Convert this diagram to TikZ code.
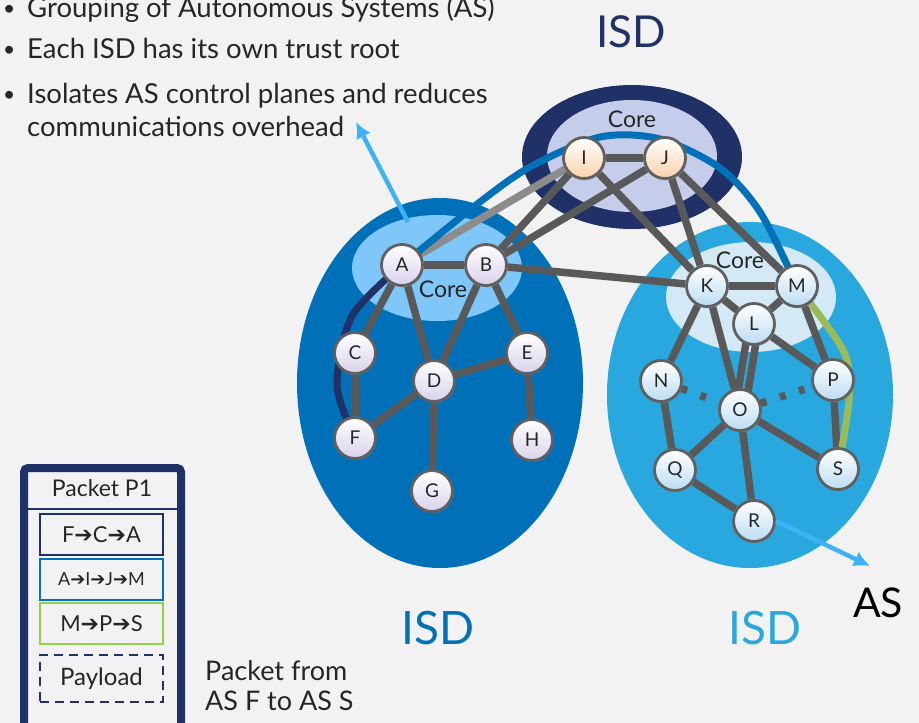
\documentclass[tikz,border=0pt]{standalone}
\usepackage{fontspec}
\setmainfont{Lato}
\newfontfamily\arrowfont{DejaVu Sans}
\usetikzlibrary{arrows.meta,shadows}

\definecolor{pagebg}{HTML}{F2F2F2}
\definecolor{navy}{HTML}{1F3166}
\definecolor{isdblue}{HTML}{0070B8}
\definecolor{isdsky}{HTML}{29A8E0}
\definecolor{corelav}{HTML}{C5CDEB}
\definecolor{corelight}{HTML}{7FC7F8}
\definecolor{corepale}{HTML}{D3EAF6}
\definecolor{linkgray}{HTML}{595959}
\definecolor{linklight}{HTML}{8C8C8C}
\definecolor{pathgreen}{HTML}{9BBB59}
\definecolor{boxblue}{HTML}{0070C0}
\definecolor{boxgreen}{HTML}{92D050}
\definecolor{pointer}{HTML}{3DB2F7}
\definecolor{inkgray}{HTML}{262626}
\definecolor{lavender}{HTML}{D9D2EC}
\definecolor{peach}{HTML}{FAD2AC}
\definecolor{icy}{HTML}{BCDDF3}

\newcommand{\pkarrow}{{\arrowfont\char"2794}}

\pgfdeclarelayer{back}
\pgfdeclarelayer{links}
\pgfsetlayers{back,links,main}

\tikzset{
  asnode/.style={circle, draw=gray!75!black, line width=2.8pt, minimum size=41pt, inner sep=0pt,
    font=\fontsize{19}{19}\selectfont, text=inkgray, top color=white, bottom color=#1,
    drop shadow={opacity=0.25, shadow xshift=1pt, shadow yshift=-2pt}},
  asnode/.default=lavender,
  link/.style={draw=linkgray, line width=7.5pt},
  hoppath/.style={line width=7pt, line cap=round},
  pkbox/.style={minimum width=123pt, minimum height=41pt, line width=2.8pt, inner sep=0pt,
    fill=pagebg, text=inkgray},
  bullet/.style={anchor=base west, font=\fontsize{27.5}{33}\selectfont, text=inkgray, inner sep=0pt},
  dot/.style={anchor=base west, font=\fontsize{21}{21}\selectfont, text=inkgray, inner sep=0pt},
  coretext/.style={font=\fontsize{23}{23}\selectfont, text=inkgray},
  pointy/.style={draw=pointer, line width=4.5pt, -{Latex[length=16pt,width=16pt]}}
}

\begin{document}
\begin{tikzpicture}[x=1pt, y=-1pt]
\useasboundingbox (0,0) rectangle (919,723);

% ISD areas
\begin{pgfonlayer}{back}
\fill[pagebg] (0,0) rectangle (919,723);
\fill[navy] (632,157) ellipse [x radius=110, y radius=72];
\fill[corelav] (632,156) ellipse [x radius=85, y radius=56];
\fill[isdblue] (440,383) ellipse [x radius=143, y radius=185];
\fill[corelight] (437,268) ellipse [x radius=85, y radius=53];
\fill[isdsky] (750,395) ellipse [x radius=143, y radius=173];
\fill[corepale] (751,297) ellipse [x radius=85, y radius=55];
\end{pgfonlayer}

% bullets
\node[dot] (b1) at (3,15) {•};
\node[bullet] (t1) at (27,17) {Grouping of Autonomous Systems (AS)};
\node[dot] (b2) at (3,56) {•};
\node[bullet] (t2) at (27,58) {Each ISD has its own trust root};
\node[dot] (b3) at (3,101) {•};
\node[bullet] (t3) at (27,103) {Isolates AS control planes and reduces};
\node[bullet] (t4) at (27,136) {communications overhead};

\node[font=\fontsize{44}{44}\selectfont, text=navy] (isdtop) at (631,32) {ISD};
\node[font=\fontsize{46}{46}\selectfont, text=isdblue] (isdleft) at (438,628) {ISD};
\node[font=\fontsize{46}{46}\selectfont, text=isdsky] (isdright) at (765,628) {ISD};
\node[font=\fontsize{41}{41}\selectfont, text=black] (astext) at (878,603) {AS};

\node[coretext] (coretop) at (632,119) {Core};
\node[coretext] (coreleft) at (443,289) {Core};
\node[coretext] (coreright) at (740,260) {Core};

% core ISD
\node[asnode=peach] (I) at (584,158) {I};
\node[asnode=peach] (J) at (665,158) {J};

% left ISD
\node[asnode] (A) at (402,265) {A};
\node[asnode] (B) at (486,265) {B};
\node[asnode] (C) at (355,353) {C};
\node[asnode] (D) at (434,381) {D};
\node[asnode] (E) at (527,353) {E};
\node[asnode] (F) at (355,438) {F};
\node[asnode] (G) at (432,491) {G};
\node[asnode] (H) at (532,440) {H};

% right ISD
\node[asnode=icy] (K) at (707,286) {K};
\node[asnode=icy] (M) at (797,286) {M};
\node[asnode=icy] (L) at (754,324) {L};
\node[asnode=icy] (N) at (661,381) {N};
\node[asnode=icy] (O) at (740,410) {O};
\node[asnode=icy] (P) at (833,380) {P};
\node[asnode=icy] (Q) at (675,470) {Q};
\node[asnode=icy] (R) at (754,521) {R};
\node[asnode=icy] (S) at (838,469) {S};

\begin{pgfonlayer}{links}
\draw[link] (A) -- (B);
\draw[link] (A) -- (C);
\draw[link] (A) -- (D);
\draw[link] (B) -- (D);
\draw[link] (B) -- (E);
\draw[link] (C) -- (F);
\draw[link] (D) -- (F);
\draw[link] (D) -- (E);
\draw[link] (D) -- (G);
\draw[link] (E) -- (H);
\draw[link, draw=linklight] (A) -- (I);
\draw[link] (B) -- (I);
\draw[link] (B) -- (J);
\draw[link] (I) -- (J);
\draw[link] (I) -- (K);
\draw[link] (J) -- (K);
\draw[link] (J) -- (M);
\draw[link] (B) -- (K);
\draw[link] (K) -- (M);
\draw[link] (K) -- (L);
\draw[link] (L) -- (M);
\draw[link] (K) -- (N);
\draw[link] (K) -- (O);
\draw[link] ([xshift=-5pt]L.center) -- ([xshift=-5pt]O.center);
\draw[link] ([xshift=5pt]L.center) -- ([xshift=5pt]O.center);
\draw[link] (L) -- (P);
\draw[link] (M) -- (P);
\draw[link] (N) -- (Q);
\draw[link] (O) -- (Q);
\draw[link] (O) -- (R);
\draw[link] (O) -- (S);
\draw[link] (P) -- (S);
\draw[link] (Q) -- (R);
\draw[link, dash pattern=on 6pt off 14pt] (N) -- (O);
\draw[link, dash pattern=on 6pt off 14pt] (O) -- (P);

% path segments of P1
\draw[hoppath, navy] plot[smooth] coordinates {(F) (337,385) (352,316) (A)};
\draw[hoppath, isdblue] plot[smooth] coordinates {(A) (476,205) (530,167) (600,137) (660,139) (720,168) (760,212) (M)};
\draw[hoppath, pathgreen] plot[smooth] coordinates {(M) (844,352) (849,400) (S)};
\end{pgfonlayer}

% pointers
\coordinate (corefoot) at (408,222);
\coordinate (overheadtip) at (356,122);
\coordinate (astip) at (870,566);
\draw[pointy] (corefoot) -- (overheadtip);
\draw[pointy] (R.east) -- (astip);

% packet P1
\draw[navy, line width=8pt, rounded corners=4pt, fill=pagebg] (24,468) rectangle (181,740);
\node[font=\fontsize{23}{23}\selectfont, text=inkgray] (pkhead) at (102,488) {Packet P1};
\draw[navy, line width=1.5pt] (28,509) -- (177,509);
\node[pkbox, draw=navy, font=\fontsize{22}{22}\selectfont] (hop1) at (101.5,534.5) {F\pkarrow C\pkarrow A};
\node[pkbox, draw=boxblue, font=\fontsize{18}{18}\selectfont] (hop2) at (101.5,579.5) {A\pkarrow I\pkarrow J\pkarrow M};
\node[pkbox, draw=boxgreen, font=\fontsize{22}{22}\selectfont] (hop3) at (101.5,623.5) {M\pkarrow P\pkarrow S};
\node[pkbox, draw=navy, dash pattern=on 9pt off 6pt, minimum height=47pt, font=\fontsize{24}{24}\selectfont] (payload) at (101.5,678.5) {Payload};

\node[anchor=base west, font=\fontsize{27}{27}\selectfont, text=inkgray, inner sep=0pt] (pkfrom) at (205,680) {Packet from};
\node[anchor=base west, font=\fontsize{27}{27}\selectfont, text=inkgray, inner sep=0pt] (pkroute) at (205,710) {AS F to AS S};

\end{tikzpicture}
\end{document}
